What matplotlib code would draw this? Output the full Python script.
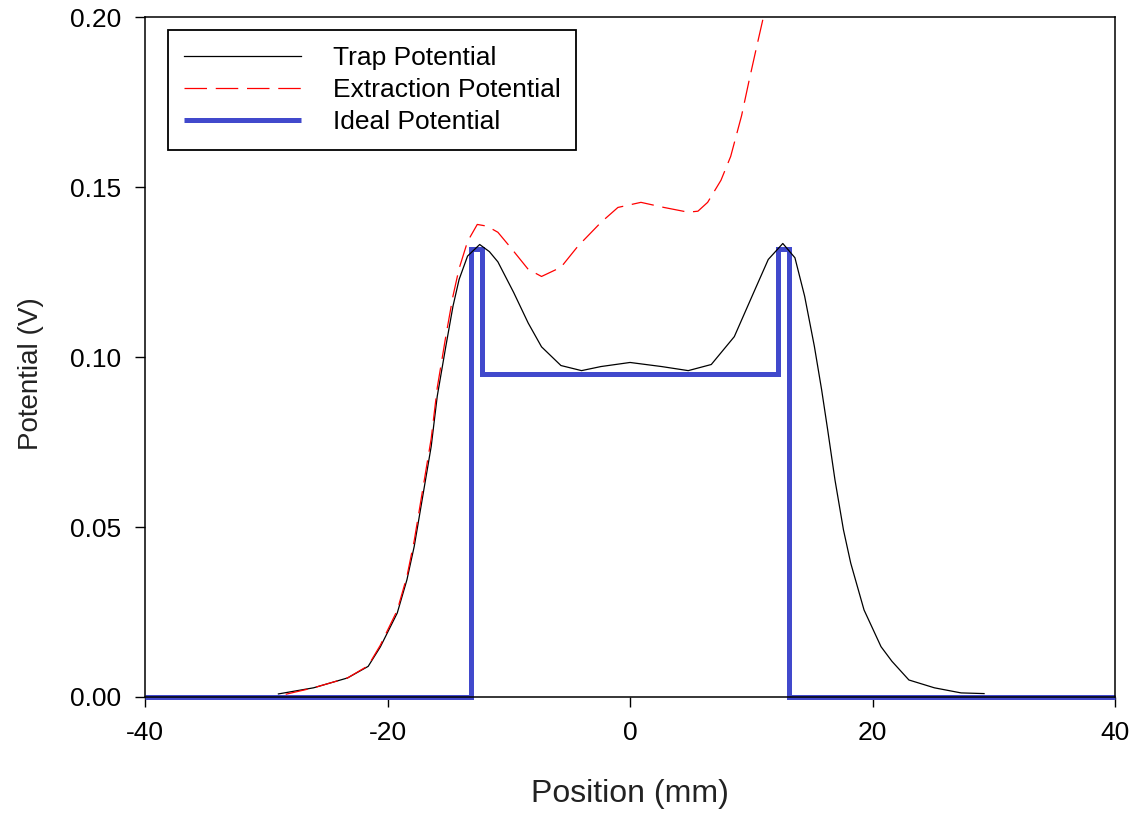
import matplotlib.pyplot as plt

plt.rcParams["font.family"] = ["Liberation Sans", "DejaVu Sans"]

# position (mm) and potential (V)
trap_x = [-29.0, -26.1, -23.3, -21.6, -20.6, -19.2, -18.4, -17.8, -17.1,
          -16.4, -15.9, -15.2, -14.6, -14.1, -13.4, -12.4, -11.6, -10.9,
          -9.6, -8.4, -7.3, -5.7, -4.0, -2.4, 0.0, 2.6, 4.8, 6.7, 8.6,
          10.2, 11.4, 12.6, 13.6, 14.4, 15.2, 15.8, 16.3, 16.9, 17.6,
          18.2, 19.3, 20.7, 21.6, 23.0, 25.1, 27.3, 29.2]
trap_y = [0.0009, 0.0027, 0.0056, 0.0090, 0.0147, 0.0247, 0.0345, 0.0443,
          0.059, 0.0737, 0.0885, 0.103, 0.115, 0.1228, 0.1297, 0.1331,
          0.131, 0.128, 0.119, 0.110, 0.103, 0.0975, 0.0960, 0.0972,
          0.0984, 0.0972, 0.0960, 0.0978, 0.106, 0.119, 0.1287, 0.1334,
          0.1292, 0.1179, 0.1032, 0.0904, 0.0786, 0.0639, 0.0492, 0.0394,
          0.0256, 0.0148, 0.0105, 0.005, 0.0027, 0.0012, 0.001]

extract_x = [-28.4, -26.1, -23.3, -21.6, -20.6, -19.2, -18.4, -17.8, -17.1,
             -16.4, -15.9, -15.2, -14.6, -14.1, -13.4, -12.6, -11.8, -10.9,
             -9.8, -8.4, -7.3, -5.7, -4.3, -2.4, -1.0, 0.9, 2.8, 4.8, 5.6,
             6.4, 7.5, 8.3, 9.2, 9.8, 10.4, 11.0, 11.6]
extract_y = [0.0008, 0.0027, 0.0056, 0.0092, 0.0152, 0.0255, 0.0355, 0.046,
             0.061, 0.076, 0.091, 0.106, 0.118, 0.126, 0.134, 0.139,
             0.1385, 0.1367, 0.132, 0.1258, 0.1237, 0.1264, 0.1326, 0.1396,
             0.144, 0.1455, 0.144, 0.1426, 0.1429, 0.1455, 0.152, 0.159,
             0.171, 0.181, 0.1906, 0.200, 0.210]

ideal_x = [-40, -13.1, -13.1, -12.2, -12.2, 12.2, 12.2, 13.1, 13.1, 40]
ideal_y = [0, 0, 0.1317, 0.1317, 0.0951, 0.0951, 0.1317, 0.1317, 0, 0]

x_ticks = [-40, -20, 0, 20, 40]
y_ticks = [0.00, 0.05, 0.10, 0.15, 0.20]

fig = plt.figure(figsize=(11.35, 8.13), dpi=100)
ax = fig.add_axes([0.1278, 0.1427, 0.8546, 0.8363])

ideal, = ax.plot(ideal_x, ideal_y, color="#4149CC", lw=3.6,
                 solid_joinstyle="miter", solid_capstyle="butt",
                 clip_on=False, zorder=2)
trap, = ax.plot(trap_x, trap_y, color="black", lw=0.9, zorder=3)
extract, = ax.plot(extract_x, extract_y, color="#FF0000", lw=0.9,
                   dashes=(18, 7), zorder=4)

ax.set_xlim(-40, 40)
ax.set_ylim(0, 0.2)
ax.set_xticks(x_ticks)
ax.set_yticks(y_ticks)
ax.set_xticklabels([str(t) for t in x_ticks])
ax.set_yticklabels([f"{t:.2f}" for t in y_ticks])
ax.tick_params(direction="out", length=7, width=1, labelsize=19, pad=10)
for s in ax.spines.values():
    s.set_linewidth(1.1)

ax.set_xlabel("Position (mm)", fontsize=23, color="#222222")
ax.set_ylabel("Potential (V)", fontsize=20, color="#222222")
ax.xaxis.set_label_coords(0.5, -0.12)
ax.yaxis.set_label_coords(-0.104, 0.476)

leg = fig.legend([trap, extract, ideal],
                 ["Trap Potential", "Extraction Potential", "Ideal Potential"],
                 loc="upper left", bbox_to_anchor=(0.148, 0.963),
                 borderaxespad=0, fontsize=19, handlelength=4.45,
                 handletextpad=1.2, borderpad=0.6, labelspacing=0.3,
                 fancybox=False, framealpha=1, edgecolor="black")
leg.get_frame().set_linewidth(1.3)

fig.savefig("out.png", dpi=100)
